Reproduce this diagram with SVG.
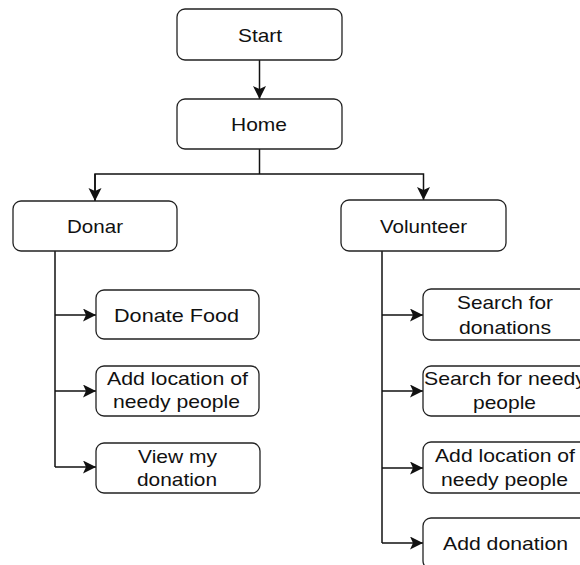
<svg xmlns="http://www.w3.org/2000/svg" width="580" height="565" viewBox="0 0 580 565">
<style>
.box{fill:#fff;stroke:#222;stroke-width:1.3}
.t{font-family:"Liberation Sans",Arial,sans-serif;font-size:19px;fill:#111;text-anchor:middle}
.c{fill:none;stroke:#111;stroke-width:1.5}
</style>
<defs>
<marker id="ah" markerUnits="userSpaceOnUse" markerWidth="14" markerHeight="14" refX="13" refY="6.5" orient="auto">
<path d="M0,0 L13,6.5 L0,13 L3,6.5 z" fill="#111"/>
</marker>
</defs>
<rect width="580" height="565" fill="#fff"/>
<g id="connectors">
<line class="c" x1="259.5" y1="60" x2="259.5" y2="99" marker-end="url(#ah)"/>
<line class="c" x1="259.5" y1="149" x2="259.5" y2="174"/>
<polyline class="c" points="95,201 95,174 423.5,174 423.5,200" marker-end="url(#ah)"/>
<line class="c" x1="95" y1="174" x2="95" y2="201" marker-end="url(#ah)"/>
<line class="c" x1="55" y1="251" x2="55" y2="467"/>
<line class="c" x1="55" y1="315" x2="96" y2="315" marker-end="url(#ah)"/>
<line class="c" x1="55" y1="391" x2="96" y2="391" marker-end="url(#ah)"/>
<line class="c" x1="55" y1="467" x2="96" y2="467" marker-end="url(#ah)"/>
<line class="c" x1="382" y1="251" x2="382" y2="543"/>
<line class="c" x1="382" y1="315" x2="423" y2="315" marker-end="url(#ah)"/>
<line class="c" x1="382" y1="391" x2="423" y2="391" marker-end="url(#ah)"/>
<line class="c" x1="382" y1="468" x2="423" y2="468" marker-end="url(#ah)"/>
<line class="c" x1="382" y1="543" x2="423" y2="543" marker-end="url(#ah)"/>
</g>
<g id="start">
<rect class="box" x="177" y="9" width="165" height="51" rx="8"/>
<text class="t" x="260" y="42" textLength="44" lengthAdjust="spacingAndGlyphs">Start</text>
</g>
<g id="home">
<rect class="box" x="177" y="99" width="165" height="50" rx="8"/>
<text class="t" x="259" y="131" textLength="56" lengthAdjust="spacingAndGlyphs">Home</text>
</g>
<g id="donar">
<rect class="box" x="13" y="201" width="164" height="50" rx="8"/>
<text class="t" x="95" y="233" textLength="56" lengthAdjust="spacingAndGlyphs">Donar</text>
</g>
<g id="volunteer">
<rect class="box" x="341" y="200" width="165" height="51" rx="8"/>
<text class="t" x="423.5" y="233" textLength="87" lengthAdjust="spacingAndGlyphs">Volunteer</text>
</g>
<g id="donate-food">
<rect class="box" x="96" y="290" width="163" height="49" rx="8"/>
<text class="t" x="176.5" y="322" textLength="125" lengthAdjust="spacingAndGlyphs">Donate Food</text>
</g>
<g id="add-location-donar">
<rect class="box" x="96" y="366" width="163" height="50" rx="8"/>
<text class="t" x="177.5" y="385" textLength="141" lengthAdjust="spacingAndGlyphs">Add location of</text>
<text class="t" x="176.5" y="408" textLength="127" lengthAdjust="spacingAndGlyphs">needy people</text>
</g>
<g id="view-donation">
<rect class="box" x="96" y="443" width="164" height="50" rx="8"/>
<text class="t" x="177.5" y="463" textLength="79" lengthAdjust="spacingAndGlyphs">View my</text>
<text class="t" x="177" y="486" textLength="80" lengthAdjust="spacingAndGlyphs">donation</text>
</g>
<g id="search-donations">
<rect class="box" x="423" y="289" width="165" height="51" rx="8"/>
<text class="t" x="505" y="309" textLength="96" lengthAdjust="spacingAndGlyphs">Search for</text>
<text class="t" x="505" y="334" textLength="92" lengthAdjust="spacingAndGlyphs">donations</text>
</g>
<g id="search-needy">
<rect class="box" x="423" y="366" width="165" height="50" rx="8"/>
<text class="t" x="505" y="385" textLength="162" lengthAdjust="spacingAndGlyphs">Search for needy</text>
<text class="t" x="504.5" y="409" textLength="63" lengthAdjust="spacingAndGlyphs">people</text>
</g>
<g id="add-location-volunteer">
<rect class="box" x="423" y="442" width="165" height="51" rx="8"/>
<text class="t" x="505" y="462" textLength="140" lengthAdjust="spacingAndGlyphs">Add location of</text>
<text class="t" x="504.5" y="486" textLength="127" lengthAdjust="spacingAndGlyphs">needy people</text>
</g>
<g id="add-donation">
<rect class="box" x="423" y="518" width="165" height="51" rx="8"/>
<text class="t" x="505.5" y="550" textLength="125" lengthAdjust="spacingAndGlyphs">Add donation</text>
</g>
</svg>
